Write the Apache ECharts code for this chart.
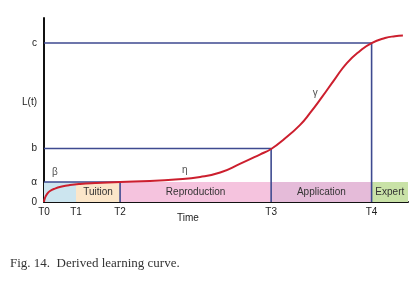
<!DOCTYPE html>
<html>
<head>
<meta charset="utf-8">
<script src="https://cdn.jsdelivr.net/npm/echarts@6/dist/echarts.min.js"></script>
<style>
  html, body { margin: 0; padding: 0; background: #fff; }
  #chart { width: 415px; height: 284px; }
</style>
</head>
<body>
<div id="chart"></div>
<script>
// time marks on the x axis (T0..T4) and the end of the plot
const timeNames = ['T0', 'T1', 'T2', 'T3', 'T4']
const timeVals = [0, 8.8, 20.9, 62.4, 90]
const timeEnd = 100

// learning levels on the y axis
const levelNames = ['0', 'α', 'b', 'c']
const levelVals = [0, 10.9, 29.1, 86.4]

// phases shaded between the time marks
const phaseNames = ['', 'Tuition', 'Reproduction', 'Application', 'Expert']
const phaseColors = ['#cce5ef', '#fbe6c9', '#f5c3de', '#e5bbd9', '#c9e2a7']

// learning curve L(t)
const curveX = [0, 0.27, 0.82, 1.65, 3.0, 4.9, 7.1, 9.9, 14.0, 20.9, 29.1, 36.0, 42.9, 48.4, 53.8,
  59.3, 62.4, 65.7, 70.3, 73.1, 76.4, 79.9, 83.2, 86.8, 90.0, 93.7, 96.4, 98.6]
const curveY = [0, 2.2, 4.3, 6.0, 7.3, 8.4, 9.2, 9.8, 10.3, 10.9, 11.4, 12.2, 13.6, 16.0, 20.7,
  25.8, 28.8, 33.7, 41.8, 48.4, 57.1, 66.8, 75.5, 82.1, 86.4, 89.1, 90.1, 90.5]

// greek labels on the curve segments
const greekNames = ['β', 'η', 'γ']
const greekX = [3.0, 38.7, 74.5]
const greekY = [16.0, 17.0, 59.2]

const navy = '#3e4a90'
const font = 'Liberation Sans'

const phaseEdges = timeVals.concat([timeEnd])
const bands = phaseNames.map((name, i) => [
  { xAxis: phaseEdges[i], yAxis: 0, name: name, itemStyle: { color: phaseColors[i] } },
  { xAxis: phaseEdges[i + 1], yAxis: levelVals[1] }
])

// guide lines: level -> time mark -> down to the axis
const guides = [[1, 2], [2, 3], [3, 4]].map(([lv, tm]) => ({
  type: 'line',
  data: [[0, levelVals[lv]], [timeVals[tm], levelVals[lv]], [timeVals[tm], 0]],
  symbol: 'none',
  lineStyle: { color: navy, width: 1.6 },
  silent: true,
  z: 3
}))

function nearestName (v, vals, names) {
  let best = 0
  vals.forEach((x, i) => { if (Math.abs(x - v) < Math.abs(vals[best] - v)) best = i })
  return names[best]
}

const chart = echarts.init(document.getElementById('chart'), null, { renderer: 'canvas' })
chart.setOption({
  animation: false,
  title: {
    text: 'Fig. 14.  Derived learning curve.',
    left: 5,
    top: 252,
    textStyle: { fontFamily: 'Liberation Serif', fontSize: 13, fontWeight: 'normal', color: '#333' }
  },
  grid: { left: 44, right: 7, top: 18, bottom: 82 },
  xAxis: {
    type: 'value',
    min: 0,
    max: timeEnd,
    splitLine: { show: false },
    axisTick: { show: false },
    axisLine: { lineStyle: { color: '#111', width: 2 } },
    axisLabel: {
      customValues: timeVals,
      margin: 5,
      fontFamily: font,
      fontSize: 10,
      color: '#222',
      formatter: v => nearestName(v, timeVals, timeNames)
    }
  },
  yAxis: {
    type: 'value',
    min: 0,
    max: 100,
    splitLine: { show: false },
    axisTick: { show: false },
    axisLine: { show: true, lineStyle: { color: '#111', width: 2 } },
    axisLabel: {
      customValues: levelVals,
      margin: 7,
      fontFamily: font,
      fontSize: 10,
      color: '#222',
      formatter: v => nearestName(v, levelVals, levelNames)
    }
  },
  graphic: [{
    type: 'text',
    left: 177,
    top: 213,
    style: { text: 'Time', fontFamily: font, fontSize: 10, fill: '#222' }
  }, {
    type: 'text',
    left: 22,
    top: 97,
    style: { text: 'L(t)', fontFamily: font, fontSize: 10, fill: '#222' }
  }],
  series: [
    {
      type: 'line',
      data: [],
      silent: true,
      z: 1,
      markArea: {
        silent: true,
        label: {
          position: 'inside',
          fontFamily: font,
          fontSize: 10,
          color: '#333'
        },
        data: bands
      }
    },
    ...guides,
    {
      type: 'line',
      data: curveX.map((x, i) => [x, curveY[i]]),
      smooth: true,
      symbol: 'none',
      lineStyle: { color: '#cc1f2e', width: 2 },
      z: 4
    },
    {
      type: 'scatter',
      data: greekX.map((x, i) => [x, greekY[i], greekNames[i]]),
      symbolSize: 0,
      silent: true,
      z: 5,
      label: {
        show: true,
        position: 'inside',
        fontFamily: font,
        fontSize: 10,
        color: '#222',
        formatter: p => p.data[2]
      }
    }
  ]
})
</script>
</body>
</html>
